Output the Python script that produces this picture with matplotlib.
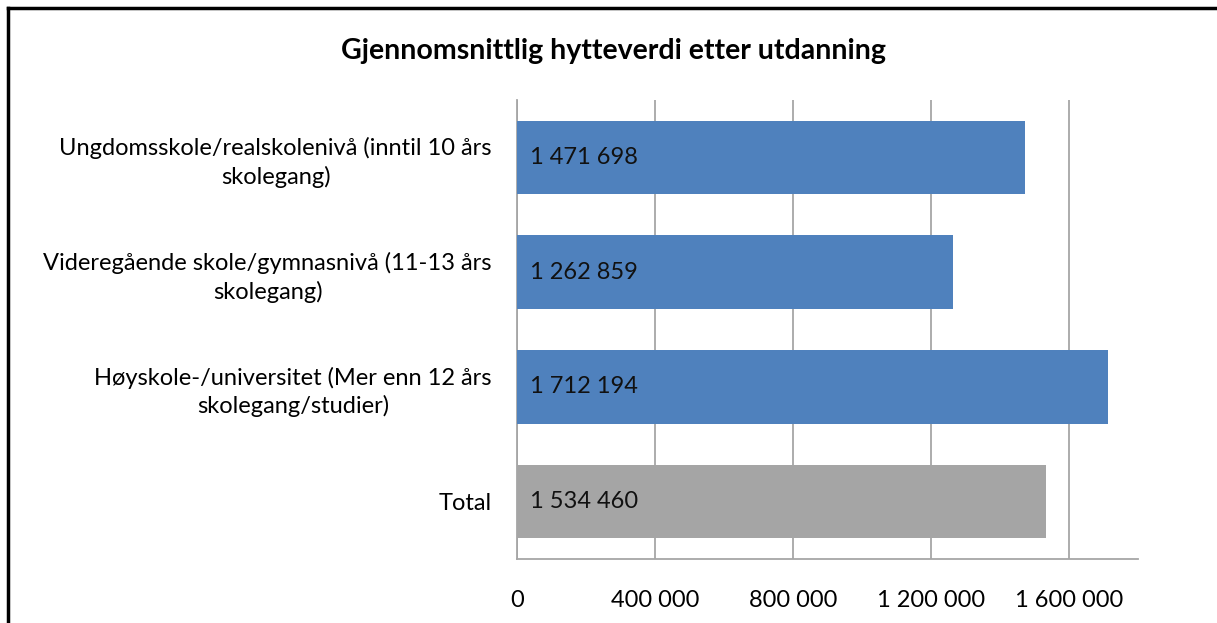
import numpy as np
import matplotlib.pyplot as plt
from matplotlib.lines import Line2D

plt.rcParams['font.family'] = ['Lato', 'DejaVu Sans']

# Data
kategorier = [
    "Ungdomsskole/realskolenivå (inntil 10 års\nskolegang)",
    "Videregående skole/gymnasnivå (11-13 års\nskolegang)",
    "Høyskole-/universitet (Mer enn 12 års\nskolegang/studier)",
    "Total",
]
verdier = [1471698, 1262859, 1712194, 1534460]
farger = ["#4F81BD", "#4F81BD", "#4F81BD", "#A5A5A5"]
x_ticks = [0, 400000, 800000, 1200000, 1600000]


def fmt(v):
    return f"{v:,}".replace(",", " ")


fig = plt.figure(figsize=(12.17, 6.23), dpi=100)
ax = fig.add_axes([0.4248, 0.1027, 0.5103, 0.7368])

y = np.arange(len(kategorier))
ax.barh(y, verdier, height=0.64, color=farger, zorder=3)

for yi, v in zip(y, verdier):
    ax.text(37000, yi, fmt(v), va='center', ha='left', fontsize=17,
            color='#111111', zorder=4)

ax.set_xlim(0, 1800000)
ax.set_ylim(3.5, -0.5)
ax.set_xticks(x_ticks)
ax.set_xticklabels([fmt(t) for t in x_ticks], fontsize=17)
ax.set_yticks(y)
ax.set_yticklabels(kategorier, fontsize=17, multialignment='center',
                   linespacing=1.35)
ax.tick_params(axis='y', length=0, pad=18)
ax.tick_params(axis='x', length=0, pad=22)

ax.grid(axis='x', color='#A6A6A6', linewidth=1.3, zorder=0)
for s in ['top', 'right']:
    ax.spines[s].set_visible(False)
ax.spines['left'].set_color('#A6A6A6')
ax.spines['bottom'].set_color('#A6A6A6')
ax.spines['left'].set_linewidth(1.3)
ax.spines['bottom'].set_linewidth(1.3)

fig.text(0.5045, 0.918, "Gjennomsnittlig hytteverdi etter utdanning",
         ha='center', va='center', fontsize=20.5, fontweight='bold')

# Ramme rundt diagrammet
x0 = 8 / 1217
y0 = 1 - 8 / 623
fig.add_artist(Line2D([x0, x0], [0, y0], transform=fig.transFigure,
                      color='black', linewidth=2.5))
fig.add_artist(Line2D([x0, 1], [y0, y0], transform=fig.transFigure,
                      color='black', linewidth=2.5))

fig.savefig("out.png", dpi=100)
